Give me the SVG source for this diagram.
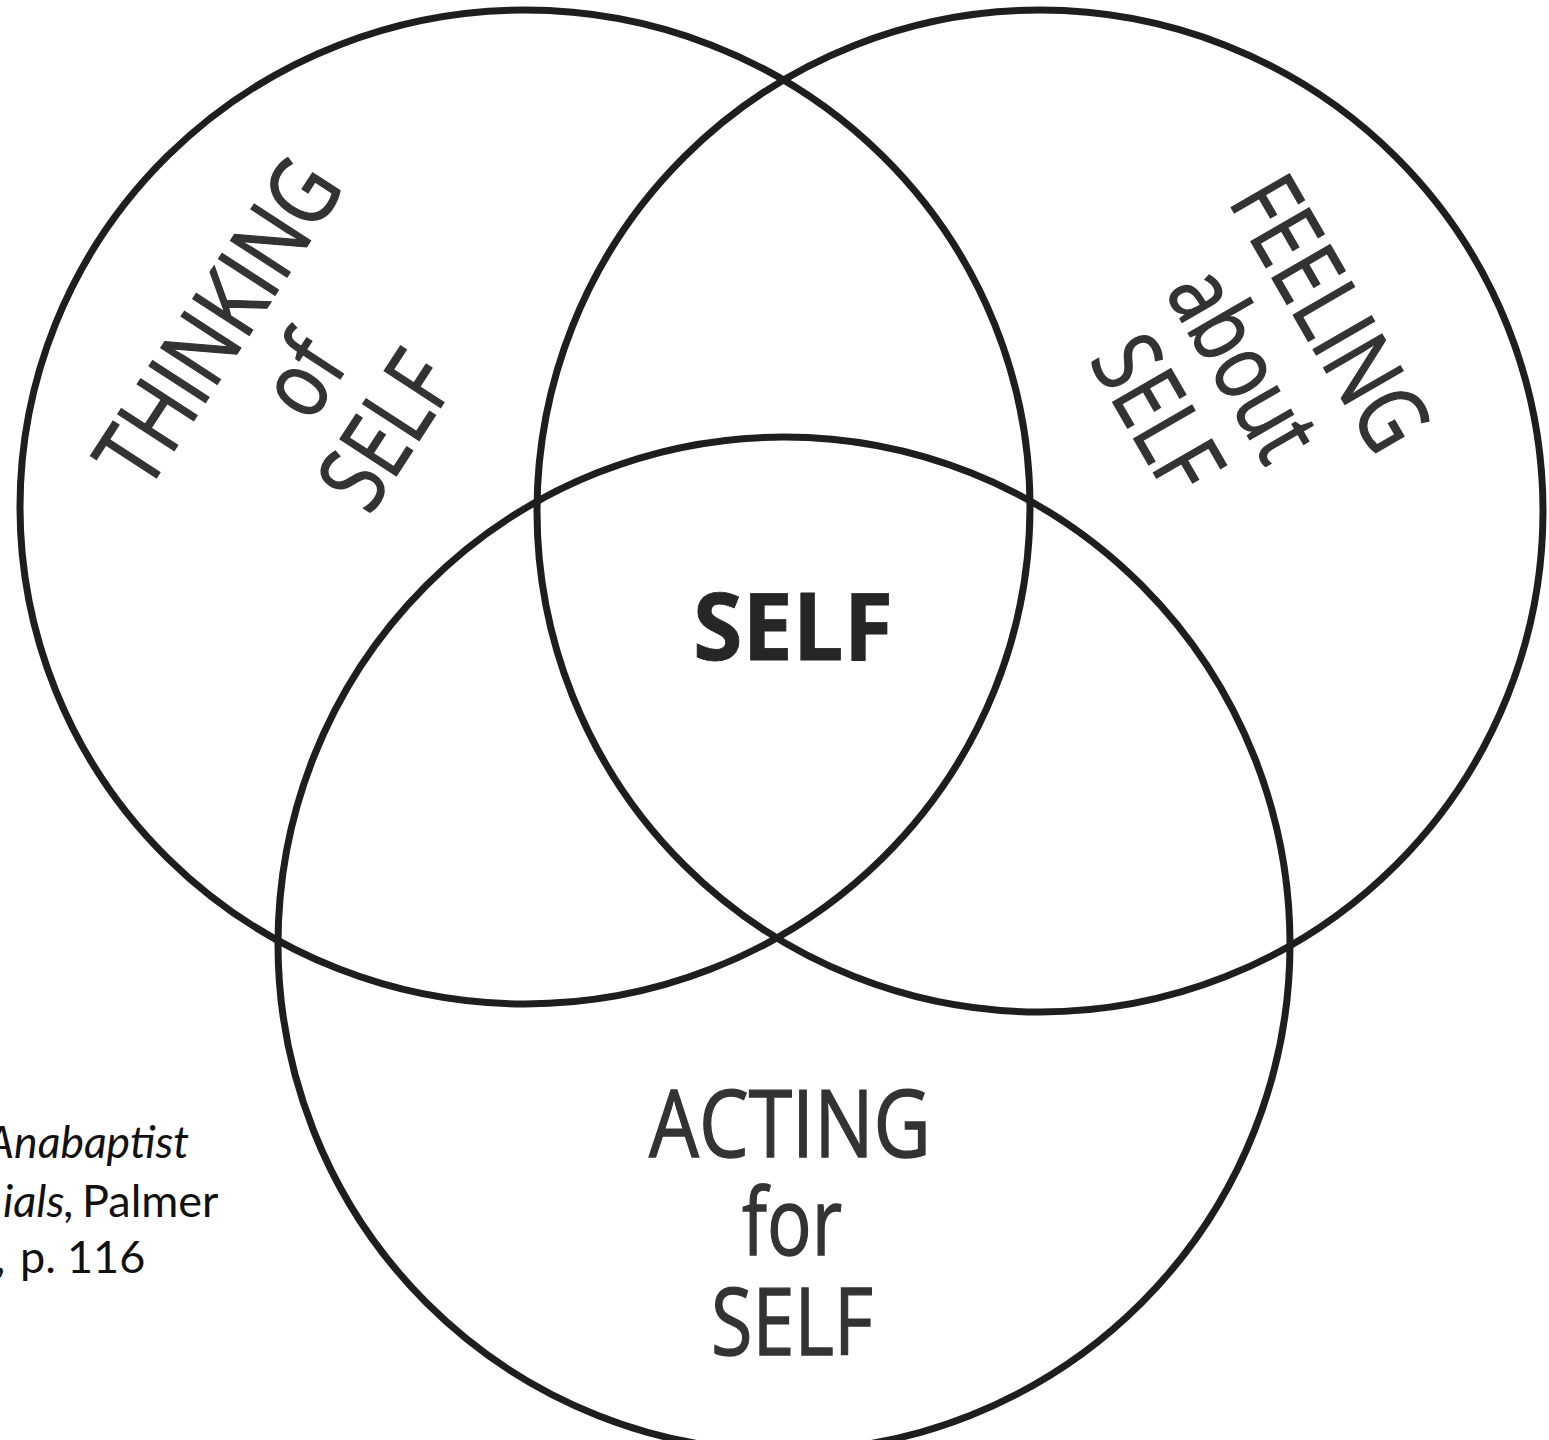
<svg xmlns="http://www.w3.org/2000/svg" width="1549" height="1440" viewBox="0 0 1549 1440">
<style>
.ring{fill:none;stroke:#1e1e1e;stroke-width:7}
.lbl{font-family:"Open Sans","Noto Sans",sans-serif;font-size:94px;fill:#333;stroke:#333;stroke-width:1.4;text-anchor:middle}
.bold{font-weight:700;fill:#262626;stroke:#262626;stroke-width:0.8}
.cite{font-family:Lato,"Open Sans",sans-serif;font-size:45px;fill:#111}
</style>
<rect width="1549" height="1440" fill="#fff"/>
<g id="circles">
<g id="thinking-circle"><ellipse class="ring" cx="525" cy="507" rx="505" ry="497"/></g>
<g id="feeling-circle"><ellipse class="ring" cx="1040" cy="511" rx="503" ry="501"/></g>
<g id="acting-circle"><ellipse class="ring" cx="784" cy="944" rx="506" ry="507"/></g>
</g>
<g id="connectors"></g>
<g id="thinking-label" transform="translate(246 340) rotate(-57)">
<text class="lbl" x="0" y="0" textLength="365" lengthAdjust="spacingAndGlyphs">THINKING</text>
<text class="lbl" x="0" y="100" textLength="72" lengthAdjust="spacingAndGlyphs">of</text>
<text class="lbl" x="0" y="200" textLength="162" lengthAdjust="spacingAndGlyphs">SELF</text>
</g>
<g id="feeling-label" transform="translate(1302 330) rotate(60)">
<text class="lbl" x="0" y="0" textLength="298" lengthAdjust="spacingAndGlyphs">FEELING</text>
<text class="lbl" x="0" y="100" textLength="204" lengthAdjust="spacingAndGlyphs">about</text>
<text class="lbl" x="0" y="200" textLength="162" lengthAdjust="spacingAndGlyphs">SELF</text>
</g>
<g id="self-label">
<text class="lbl bold" x="793" y="660" textLength="200" lengthAdjust="spacingAndGlyphs">SELF</text>
</g>
<g id="acting-label">
<text class="lbl" x="790" y="1157" textLength="282" lengthAdjust="spacingAndGlyphs">ACTING</text>
<text class="lbl" x="792" y="1255" textLength="100" lengthAdjust="spacingAndGlyphs">for</text>
<text class="lbl" x="792" y="1355" textLength="162" lengthAdjust="spacingAndGlyphs">SELF</text>
</g>
<g id="citation">
<text class="cite" x="-14" y="1158" font-style="italic" textLength="203" lengthAdjust="spacingAndGlyphs">Anabaptist</text>
<text class="cite" y="1217"><tspan x="3" font-style="italic">ials,</tspan><tspan x="82">Palmer</tspan></text>
<text class="cite" y="1273"><tspan x="-5">,</tspan><tspan x="20">p.</tspan><tspan x="67">116</tspan></text>
</g>
</svg>
